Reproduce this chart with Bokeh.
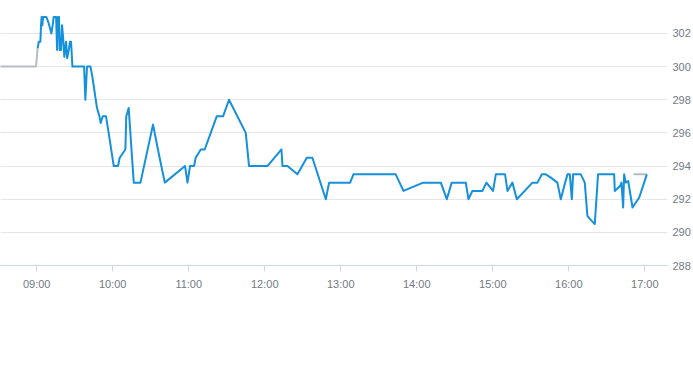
from datetime import datetime
from bokeh.plotting import figure
from bokeh.models import Range1d, FixedTicker, DatetimeTickFormatter, LinearAxis, ColumnDataSource
from bokeh.embed import file_html
from bokeh.resources import INLINE

DAY = "2024-01-02 "

# pre-open / reference segments (grey)
pre_times = ["08:30:00", "08:59:30", "09:00:40"]
pre_values = [300.0, 300.0, 301.1]
post_times = ["16:51:06", "17:01:36"]
post_values = [293.5, 293.5]

# intraday price (blue)
times = [
    "09:00:48", "09:01:36", "09:02:54", "09:03:24", "09:03:54", "09:04:30", "09:05:00", "09:07:36",
    "09:09:30", "09:11:36", "09:12:36", "09:13:24", "09:15:18", "09:16:06", "09:16:48", "09:17:36",
    "09:18:12", "09:19:12", "09:20:00", "09:20:48", "09:21:48", "09:23:12", "09:24:00", "09:25:18",
    "09:26:18", "09:27:06", "09:28:12", "09:37:24", "09:38:24", "09:39:42", "09:42:24", "09:43:42",
    "09:47:36", "09:49:30", "09:50:30", "09:52:06", "09:54:42", "09:56:48", "10:00:48", "10:04:12",
    "10:05:30", "10:10:00", "10:10:42", "10:12:36", "10:16:36", "10:21:54", "10:31:48", "10:36:36",
    "10:41:06", "10:57:06", "10:59:00", "11:01:00", "11:04:12", "11:05:30", "11:09:30", "11:12:36",
    "11:22:06", "11:27:06", "11:31:48", "11:45:00", "11:47:36", "12:02:06", "12:13:12", "12:14:00",
    "12:17:54", "12:25:48", "12:33:12", "12:37:36", "12:48:12", "12:50:48", "13:07:24", "13:10:00",
    "13:43:24", "13:49:30", "14:05:00", "14:19:00", "14:23:42", "14:27:36", "14:38:42", "14:40:48",
    "14:43:54", "14:51:48", "14:55:00", "15:00:12", "15:02:24", "15:09:42", "15:11:36", "15:15:30",
    "15:19:00", "15:31:18", "15:35:18", "15:38:42", "15:41:48", "15:45:48", "15:51:00", "15:53:42",
    "15:57:06", "15:59:00", "16:00:48", "16:02:24", "16:03:24", "16:09:30", "16:12:36", "16:14:42",
    "16:16:48", "16:20:30", "16:23:06", "16:35:48", "16:36:18", "16:40:30", "16:41:36", "16:42:54",
    "16:43:42", "16:45:00", "16:46:54", "16:50:18", "16:55:36", "17:01:36",
]
values = [
    301.1, 301.5, 301.5, 302.5, 303.0, 302.5, 303.0, 303.0,
    302.6, 302.0, 302.5, 303.0, 303.0, 301.0, 303.0, 303.0,
    301.0, 301.0, 302.5, 301.8, 300.6, 301.5, 300.5, 301.0,
    301.5, 301.5, 300.0, 300.0, 298.0, 300.0, 300.0, 299.5,
    297.5, 297.0, 296.6, 297.0, 297.0, 296.0, 294.0, 294.0,
    294.5, 295.0, 297.0, 297.5, 293.0, 293.0, 296.5, 294.65,
    293.0, 294.0, 293.0, 294.0, 294.0, 294.5, 295.0, 295.0,
    297.0, 297.0, 298.0, 296.0, 294.0, 294.0, 295.0, 294.0,
    294.0, 293.5, 294.5, 294.5, 292.0, 293.0, 293.0, 293.5,
    293.5, 292.5, 293.0, 293.0, 292.0, 293.0, 293.0, 292.0,
    292.5, 292.5, 293.0, 292.5, 293.5, 293.5, 292.5, 293.0,
    292.0, 293.0, 293.0, 293.5, 293.5, 293.3, 293.0, 292.0,
    293.0, 293.5, 293.5, 292.0, 293.5, 293.5, 293.0, 291.0,
    290.8, 290.5, 293.5, 293.5, 292.5, 292.8, 293.0, 291.5,
    293.5, 293.0, 293.1, 291.5, 292.1, 293.5,
]

tick_hours = ["09:00", "10:00", "11:00", "12:00", "13:00", "14:00", "15:00", "16:00", "17:00"]
y_ticks = [288, 290, 292, 294, 296, 298, 300, 302]

FONT = "Liberation Sans"


def to_dt(t):
    fmt = "%Y-%m-%d %H:%M:%S" if t.count(":") == 2 else "%Y-%m-%d %H:%M"
    return datetime.strptime(DAY + t, fmt)


def to_ms(t):
    return to_dt(t).timestamp() * 1000.0


x0 = to_dt("08:31:25")
x1 = to_dt("17:17:55")

p = figure(
    x_axis_type="datetime",
    frame_width=667, frame_height=265,
    x_range=Range1d(x0, x1), y_range=Range1d(288, 303.988),
    output_backend="svg", toolbar_location=None,
    min_border_left=0, min_border_top=0, min_border_right=25, min_border_bottom=43,
    y_axis_location=None,
)
p.outline_line_color = None
p.background_fill_color = "white"
p.border_fill_color = "white"

pre_src = ColumnDataSource(dict(x=[to_dt(t) for t in pre_times], y=pre_values))
post_src = ColumnDataSource(dict(x=[to_dt(t) for t in post_times], y=post_values))
main_src = ColumnDataSource(dict(x=[to_dt(t) for t in times], y=values))

p.line("x", "y", source=pre_src, line_color="#b5bcc4", line_width=2)
p.line("x", "y", source=post_src, line_color="#b5bcc4", line_width=2)
p.line("x", "y", source=main_src, line_color="#1590dc", line_width=2, line_join="round")

# x axis
xa = p.xaxis[0]
xa.ticker = FixedTicker(ticks=[to_ms(t) for t in tick_hours])
xa.formatter = DatetimeTickFormatter(hours="%H:%M", minutes="%H:%M", hourmin="%H:%M", days="%H:%M")
xa.axis_line_color = "#ccd6eb"
xa.major_tick_line_color = "#ccd6eb"
xa.major_tick_in = 0
xa.major_tick_out = 6
xa.minor_tick_line_color = None
xa.major_label_standoff = 6
xa.major_label_text_font = FONT
xa.major_label_text_font_size = "11px"
xa.major_label_text_color = "#707a85"

# y axis on the right
ya = LinearAxis(ticker=FixedTicker(ticks=y_ticks))
ya.axis_line_color = None
ya.major_tick_line_color = None
ya.minor_tick_line_color = None
ya.major_tick_in = 0
ya.major_tick_out = 0
ya.major_label_standoff = 5
ya.major_label_text_font = FONT
ya.major_label_text_font_size = "11px"
ya.major_label_text_color = "#707a85"
p.add_layout(ya, "right")

p.xgrid.grid_line_color = None
p.ygrid.ticker = FixedTicker(ticks=y_ticks)
p.ygrid.grid_line_color = "#e6e6e6"
p.ygrid.grid_line_width = 1

open("out.html", "w").write(file_html(p, INLINE))
